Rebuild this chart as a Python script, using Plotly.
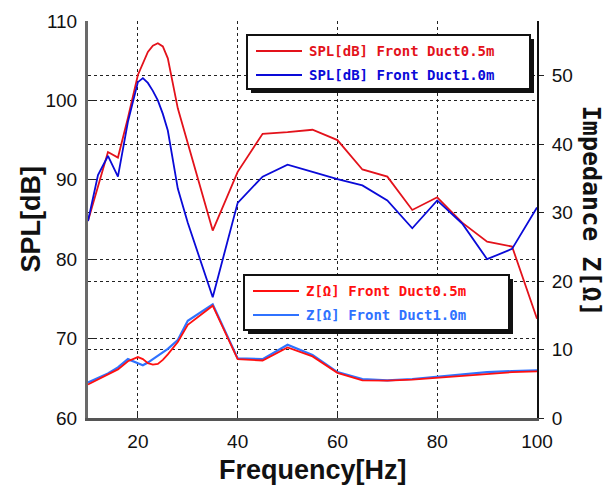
import plotly.graph_objects as go

# Measurement frequencies [Hz]
freq = [10, 12, 14, 16, 18, 20, 21, 22, 23, 24, 25, 26, 28, 30, 35,
        40, 45, 50, 55, 60, 65, 70, 75, 80, 85, 90, 95, 100]

# Sound pressure level [dB]
spl_05 = [84.8, 89.2, 93.5, 92.8, 97.8, 103.2, 104.7, 106.1, 106.9, 107.2, 106.8, 105.3, 99.0, 94.5, 83.6,
          91.0, 95.8, 96.0, 96.3, 95.0, 91.3, 90.4, 86.2, 87.8, 84.6, 82.2, 81.6, 72.5]
spl_10 = [84.8, 90.6, 93.0, 90.4, 97.3, 102.3, 102.8, 102.2, 101.2, 100.0, 98.3, 96.2, 88.9, 84.6, 75.2,
          87.1, 90.4, 91.9, 91.0, 90.1, 89.3, 87.4, 83.9, 87.4, 84.5, 80.0, 81.3, 86.5]

# Impedance [ohm]
z_05 = [4.9, 5.6, 6.3, 7.1, 8.3, 8.9, 8.6, 8.0, 7.8, 7.9, 8.5, 9.3, 11.1, 13.6, 16.4,
        8.6, 8.4, 10.3, 9.0, 6.6, 5.5, 5.45, 5.6, 5.9, 6.2, 6.5, 6.7, 6.8]
z_10 = [5.2, 5.9, 6.5, 7.4, 8.6, 8.0, 7.7, 8.1, 8.6, 9.1, 9.6, 10.1, 11.4, 14.2, 16.6,
        8.7, 8.6, 10.7, 9.2, 6.7, 5.7, 5.5, 5.7, 6.0, 6.3, 6.7, 6.85, 6.95]

spl_names = ["SPL[dB] Front Duct0.5m", "SPL[dB] Front Duct1.0m"]
z_names = ["Z[Ω] Front Duct0.5m", "Z[Ω] Front Duct1.0m"]

x_ticks = [20, 40, 60, 80, 100]
spl_ticks = [60, 70, 80, 90, 100, 110]
z_ticks = [0, 10, 20, 30, 40, 50]

RED_SPL = "#e3121b"
BLUE_SPL = "#0a0ad8"
RED_Z = "#ff1010"
BLUE_Z = "#2f72ff"

fig = go.Figure()
fig.add_trace(go.Scatter(x=freq, y=z_10, name=z_names[1], mode="lines",
                         line=dict(color=BLUE_Z, width=2.2), yaxis="y2", showlegend=False))
fig.add_trace(go.Scatter(x=freq, y=z_05, name=z_names[0], mode="lines",
                         line=dict(color=RED_Z, width=1.8), yaxis="y2", showlegend=False))
fig.add_trace(go.Scatter(x=freq, y=spl_05, name=spl_names[0], mode="lines",
                         line=dict(color=RED_SPL, width=1.8), showlegend=False))
fig.add_trace(go.Scatter(x=freq, y=spl_10, name=spl_names[1], mode="lines",
                         line=dict(color=BLUE_SPL, width=1.8), showlegend=False))

tick_font = dict(family="Liberation Sans, Arial, sans-serif", size=19, color="#111")

fig.update_layout(
    width=615, height=490,
    margin=dict(l=88, r=78, t=21, b=72),
    paper_bgcolor="white", plot_bgcolor="white",
    xaxis=dict(range=[10, 100], tickvals=x_ticks, tickfont=tick_font,
               showgrid=True, gridcolor="#222", griddash="dot", gridwidth=1,
               showline=True, linecolor="#555", linewidth=3,
               ticks="inside", ticklen=5, tickcolor="#222",
               ticklabelstandoff=4, zeroline=False),
    yaxis=dict(range=[60, 110], tickvals=spl_ticks, tickfont=tick_font,
               showgrid=True, gridcolor="#222", griddash="dot", gridwidth=1,
               showline=True, linecolor="#6a6a6a", linewidth=3,
               ticks="inside", ticklen=6, tickcolor="#222",
               ticklabelstandoff=4, zeroline=False),
    yaxis2=dict(range=[0, 58], tickvals=z_ticks, tickfont=tick_font,
                overlaying="y", side="right", anchor="x",
                showgrid=True, gridcolor="#222", griddash="dot", gridwidth=1,
                showline=True, linecolor="#111", linewidth=2,
                ticks="outside", ticklen=5, tickcolor="#222",
                ticklabelstandoff=4, zeroline=False),
    showlegend=False,
)

# Axis titles
fig.add_annotation(text="<b>Frequency[Hz]</b>", x=0.5, y=-0.13, xref="paper", yref="paper",
                   showarrow=False, xanchor="center", yanchor="middle",
                   font=dict(family="Liberation Sans, Arial, sans-serif", size=27, color="#111"))
fig.add_annotation(text="<b>SPL[dB]</b>", x=-0.129, y=0.5, xref="paper", yref="paper",
                   showarrow=False, textangle=-90, xanchor="center", yanchor="middle",
                   font=dict(family="Liberation Sans, Arial, sans-serif", size=27, color="#111"))
fig.add_annotation(text="<b>Impedance Z[Ω]</b>", x=1.122, y=0.52, xref="paper", yref="paper",
                   showarrow=False, textangle=90, xanchor="center", yanchor="middle",
                   font=dict(family="DejaVu Sans Mono, monospace", size=25, color="#111"))

# Legend boxes drawn in paper coordinates
px_w, px_h = 615 - 88 - 78, 490 - 21 - 72


def px(xp):
    return (xp - 88) / px_w


def py(yp):
    return (490 - 72 - yp) / px_h


def legend_box(x0, y0, x1, y1, rows):
    # shadow
    fig.add_shape(type="rect", xref="paper", yref="paper",
                  x0=px(x0 + 4), x1=px(x1 + 4), y0=py(y1 + 4), y1=py(y0 + 4),
                  fillcolor="#111", line=dict(width=0), layer="above")
    fig.add_shape(type="rect", xref="paper", yref="paper",
                  x0=px(x0), x1=px(x1), y0=py(y1), y1=py(y0),
                  fillcolor="white", line=dict(color="#111", width=2), layer="above")
    for (ypos, color, label) in rows:
        fig.add_shape(type="line", xref="paper", yref="paper",
                      x0=px(x0 + 9), x1=px(x0 + 55), y0=py(ypos), y1=py(ypos),
                      line=dict(color=color, width=2), layer="above")
        fig.add_annotation(text=label, xref="paper", yref="paper", x=px(x0 + 60), y=py(ypos),
                           xanchor="left", yanchor="middle", showarrow=False,
                           font=dict(family="DejaVu Sans Mono, monospace", size=14, color=color))


legend_box(247, 35, 530, 89, [(51, RED_SPL, "<b>" + spl_names[0] + "</b>"),
                              (75, BLUE_SPL, "<b>" + spl_names[1] + "</b>")])
legend_box(244, 275, 509, 330, [(291, RED_Z, "<b>" + z_names[0] + "</b>"),
                                (315, BLUE_Z, "<b>" + z_names[1] + "</b>")])

fig.write_html("out.html")
